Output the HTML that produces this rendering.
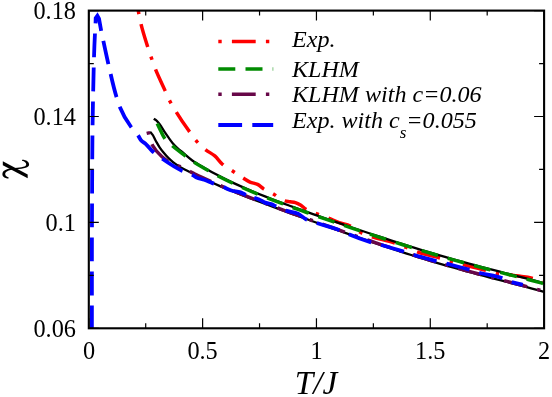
<!DOCTYPE html>
<html><head><meta charset="utf-8"><title>chart</title>
<style>
html,body{margin:0;padding:0;background:#fff;}
svg{display:block;}
text{font-family:"Liberation Serif",serif;fill:#000;}
.c{fill:none;stroke-linejoin:miter;stroke-linecap:butt;}
</style></head>
<body>
<svg width="552" height="397" viewBox="0 0 552 397">
<rect width="552" height="397" fill="#fff"/>
<defs><filter id="nf" x="0" y="0" width="552" height="397" filterUnits="userSpaceOnUse"><feOffset dx="0" dy="0"/></filter><clipPath id="cp"><rect x="88.8" y="10.6" width="455.3" height="317.7"/></clipPath></defs>
<g clip-path="url(#cp)">
<path class="c" d="M137.60,6.00 C137.93,8.14 138.23,10.36 138.60,12.50 C139.11,15.45 139.75,18.48 140.40,21.40 C142.19,29.40 144.74,37.48 147.20,45.30 C148.46,49.31 149.83,53.42 151.20,57.40 C152.41,60.91 153.66,64.53 155.00,68.00 C157.94,75.62 161.74,83.15 165.10,90.60 C166.68,94.10 168.14,97.78 169.90,101.20 C171.79,104.87 174.04,108.48 176.20,112.00 C180.07,118.30 184.39,124.59 188.70,130.60 C191.15,134.01 193.52,137.65 196.30,140.80 C199.14,144.02 202.33,147.13 205.70,149.80 C208.53,152.04 212.05,153.55 214.80,155.90 C217.62,158.32 219.59,161.77 222.40,164.20 C225.46,166.85 229.23,168.76 232.60,171.00 C235.97,173.24 239.37,175.66 242.80,177.80 C245.15,179.27 247.46,180.99 250.00,182.10 C252.40,183.15 255.27,183.20 257.60,184.40 C259.80,185.53 261.53,187.55 263.60,188.90 C266.78,190.97 270.57,192.22 273.80,194.20 C275.91,195.49 277.87,197.15 280.00,198.40 C281.45,199.25 282.91,200.25 284.50,200.80 C286.24,201.40 288.19,201.40 290.00,201.70 C291.78,201.99 293.67,202.07 295.40,202.60 C297.18,203.15 298.90,204.04 300.50,205.00 C302.48,206.18 304.05,208.07 306.00,209.30 C309.32,211.41 313.33,212.47 317.00,213.90 C320.70,215.34 324.61,216.55 328.30,218.00 C331.93,219.43 335.53,221.27 339.20,222.60 C342.80,223.91 346.83,224.37 350.30,226.00 C351.90,226.75 353.49,227.67 355.00,228.60 C356.82,229.72 358.44,231.25 360.30,232.30 C361.94,233.23 363.75,234.00 365.50,234.70 C367.41,235.47 369.44,236.06 371.40,236.70 C378.79,239.10 386.75,240.41 394.10,242.90 C397.94,244.20 401.82,245.73 405.60,247.20 C409.45,248.70 413.31,250.51 417.20,251.90 C424.51,254.50 432.47,255.79 439.90,258.00 C443.41,259.04 446.98,260.27 450.50,261.30 C454.47,262.46 458.60,263.55 462.60,264.60 C469.47,266.40 476.64,267.86 483.50,269.70 C487.94,270.89 492.37,272.71 496.90,273.50 C500.52,274.13 504.35,274.05 508.00,274.50 C510.85,274.85 513.76,275.37 516.60,275.80 C521.68,276.56 527.02,276.82 532.00,278.10 C536.06,279.15 540.04,280.91 544.00,282.30" stroke="#ff0000" stroke-width="3.5" stroke-dasharray="3.4,10.2,23.8,10.2" stroke-dashoffset="-4.8"/>
<path class="c" d="M153.80,118.70 C154.53,119.20 155.32,119.65 156.00,120.20 C156.83,120.88 157.59,121.70 158.30,122.50 C159.54,123.90 160.56,125.55 161.60,127.10 C162.82,128.91 163.90,130.88 165.10,132.70 C166.21,134.38 167.42,136.07 168.60,137.70 C169.92,139.54 171.22,141.48 172.70,143.20 C174.08,144.81 175.64,146.36 177.20,147.80 C178.78,149.27 180.55,150.61 182.20,152.00 C185.53,154.80 188.77,157.95 192.30,160.50 C196.27,163.37 200.76,165.72 205.00,168.17 C208.92,170.44 213.00,172.71 217.00,174.82 C220.92,176.89 225.01,178.93 229.00,180.86 C232.93,182.76 237.02,184.63 241.00,186.41 C244.94,188.17 249.02,189.91 253.00,191.58 C256.94,193.22 261.03,194.87 265.00,196.44 C268.95,198.00 273.03,199.57 277.00,201.08 C280.95,202.57 285.03,204.08 289.00,205.54 C292.95,206.99 297.04,208.46 301.00,209.87 C304.96,211.29 309.04,212.73 313.00,214.12 C316.96,215.50 321.04,216.92 325.00,218.29 C328.96,219.66 333.04,221.06 337.00,222.41 C340.96,223.76 345.04,225.15 349.00,226.48 C352.96,227.82 357.04,229.19 361.00,230.52 C364.96,231.84 369.04,233.19 373.00,234.50 C376.96,235.80 381.04,237.14 385.00,238.43 C388.96,239.71 393.04,241.03 397.00,242.29 C400.96,243.55 405.04,244.85 409.00,246.08 C412.96,247.32 417.04,248.58 421.00,249.79 C424.96,250.99 429.04,252.22 433.00,253.40 C436.96,254.57 441.04,255.77 445.00,256.91 C448.96,258.05 453.04,259.21 457.00,260.32 C460.96,261.42 465.04,262.54 469.00,263.62 C472.96,264.69 477.04,265.78 481.00,266.83 C484.96,267.87 489.04,268.93 493.00,269.96 C496.96,270.98 501.04,272.02 505.00,273.03 C508.96,274.04 513.04,275.08 517.00,276.09 C520.96,277.10 525.04,278.14 529.00,279.17 C532.96,280.20 537.05,281.27 541.00,282.33 C541.99,282.60 543.01,282.88 544.00,283.15" stroke="#000" stroke-width="2.3"/>
<path class="c" d="M150.10,131.80 C150.89,132.76 151.77,133.69 152.50,134.70 C153.92,136.68 154.80,139.08 156.00,141.20 C157.15,143.24 158.30,145.36 159.60,147.30 C160.68,148.91 161.89,150.50 163.10,152.00 C164.86,154.18 166.79,156.35 168.80,158.30 C170.04,159.51 171.36,160.70 172.70,161.80 C174.25,163.07 175.93,164.29 177.60,165.40 C179.27,166.50 181.05,167.53 182.80,168.50 C185.28,169.87 187.98,171.01 190.50,172.30 C192.33,173.24 194.17,174.28 196.00,175.21 C199.90,177.19 204.02,179.01 208.00,180.81 C211.94,182.59 216.02,184.37 220.00,186.07 C223.94,187.75 228.03,189.44 232.00,191.06 C235.95,192.67 240.03,194.29 244.00,195.84 C247.95,197.40 252.03,198.97 256.00,200.48 C259.95,201.99 264.04,203.52 268.00,205.00 C271.96,206.48 276.04,207.99 280.00,209.45 C283.96,210.90 288.04,212.39 292.00,213.84 C295.96,215.28 300.04,216.75 304.00,218.18 C307.96,219.61 312.04,221.08 316.00,222.49 C319.96,223.91 324.04,225.37 328.00,226.77 C331.96,228.18 336.04,229.62 340.00,231.02 C343.96,232.41 348.04,233.84 352.00,235.22 C355.96,236.60 360.04,238.02 364.00,239.38 C367.96,240.74 372.04,242.13 376.00,243.47 C379.96,244.80 384.04,246.17 388.00,247.48 C391.96,248.79 396.04,250.13 400.00,251.41 C403.96,252.69 408.03,254.00 412.00,255.24 C415.96,256.49 420.03,257.76 424.00,258.97 C427.95,260.18 432.03,261.41 436.00,262.58 C439.95,263.76 444.04,264.94 448.00,266.08 C451.96,267.22 456.04,268.37 460.00,269.47 C463.96,270.57 468.04,271.69 472.00,272.76 C475.96,273.83 480.04,274.91 484.00,275.96 C487.96,277.01 492.04,278.07 496.00,279.11 C499.96,280.14 504.04,281.19 508.00,282.23 C511.96,283.26 516.04,284.32 520.00,285.36 C523.96,286.41 528.05,287.49 532.00,288.57 C535.97,289.66 540.04,290.82 544.00,291.93" stroke="#000" stroke-width="2.3"/>
<path class="c" d="M157.20,123.60 C158.42,126.11 159.64,128.71 160.90,131.20 C162.08,133.53 163.10,136.06 164.60,138.20 C166.80,141.33 170.03,143.77 172.90,146.30 C176.83,149.78 181.29,152.87 185.50,156.00 C188.48,158.21 191.50,160.56 194.60,162.60 C197.93,164.80 201.54,166.78 205.00,168.77 C208.93,171.03 213.00,173.31 217.00,175.42 C220.92,177.49 225.01,179.53 229.00,181.46 C232.93,183.36 237.02,185.23 241.00,187.01 C244.94,188.77 249.02,190.51 253.00,192.18 C256.94,193.82 261.03,195.47 265.00,197.04 C268.95,198.60 273.03,200.17 277.00,201.68 C280.95,203.17 285.03,204.68 289.00,206.14 C292.95,207.59 297.04,209.06 301.00,210.47 C304.96,211.89 309.04,213.33 313.00,214.72 C316.96,216.10 321.04,217.52 325.00,218.89 C328.96,220.26 333.04,221.66 337.00,223.01 C340.96,224.36 345.04,225.75 349.00,227.08 C352.96,228.42 357.04,229.79 361.00,231.12 C364.96,232.44 369.04,233.79 373.00,235.10 C376.96,236.40 381.04,237.74 385.00,239.03 C388.96,240.31 393.04,241.63 397.00,242.89 C400.96,244.15 405.04,245.45 409.00,246.68 C412.96,247.92 417.04,249.18 421.00,250.39 C424.96,251.59 429.04,252.82 433.00,254.00 C436.96,255.17 441.04,256.37 445.00,257.51 C448.96,258.65 453.04,259.81 457.00,260.92 C460.96,262.02 465.04,263.14 469.00,264.22 C472.96,265.29 477.04,266.38 481.00,267.43 C484.96,268.47 489.04,269.53 493.00,270.56 C496.96,271.58 501.04,272.62 505.00,273.63 C508.96,274.64 513.04,275.68 517.00,276.69 C520.96,277.70 525.04,278.74 529.00,279.77 C532.96,280.80 537.05,281.87 541.00,282.93 C541.99,283.20 543.01,283.48 544.00,283.75" stroke="#008b00" stroke-width="3.5" stroke-dasharray="17.0,10.2"/>
<path class="c" d="M148.00,131.30 C148.13,131.89 148.26,132.51 148.40,133.10 C149.39,137.30 150.52,141.71 152.60,145.50 C154.92,149.73 158.39,153.50 162.00,156.70 C163.98,158.45 166.15,160.12 168.40,161.50 C171.83,163.62 175.94,164.71 179.60,166.40 C183.23,168.08 186.94,169.87 190.50,171.70 C192.33,172.64 194.17,173.68 196.00,174.61 C199.90,176.59 204.02,178.41 208.00,180.21 C211.94,181.99 216.02,183.77 220.00,185.47 C223.94,187.15 228.03,188.84 232.00,190.46 C235.95,192.07 240.03,193.69 244.00,195.24 C247.95,196.80 252.03,198.37 256.00,199.88 C259.95,201.39 264.04,202.92 268.00,204.40 C271.96,205.88 276.04,207.39 280.00,208.85 C283.96,210.30 288.04,211.79 292.00,213.24 C295.96,214.68 300.04,216.15 304.00,217.58 C307.96,219.01 312.04,220.48 316.00,221.89 C319.96,223.31 324.04,224.77 328.00,226.17 C331.96,227.58 336.04,229.02 340.00,230.42 C343.96,231.81 348.04,233.24 352.00,234.62 C355.96,236.00 360.04,237.42 364.00,238.78 C367.96,240.14 372.04,241.53 376.00,242.87 C379.96,244.20 384.04,245.57 388.00,246.88 C391.96,248.19 396.04,249.53 400.00,250.81 C403.96,252.09 408.03,253.40 412.00,254.64 C415.96,255.89 420.03,257.16 424.00,258.37 C427.95,259.58 432.03,260.81 436.00,261.98 C439.95,263.16 444.04,264.34 448.00,265.48 C451.96,266.62 456.04,267.77 460.00,268.87 C463.96,269.97 468.04,271.09 472.00,272.16 C475.96,273.23 480.04,274.31 484.00,275.36 C487.96,276.41 492.04,277.47 496.00,278.51 C499.96,279.54 504.04,280.59 508.00,281.63 C511.96,282.66 516.04,283.72 520.00,284.76 C523.96,285.81 528.05,286.89 532.00,287.97 C535.97,289.06 540.04,290.22 544.00,291.33" stroke="#670748" stroke-width="3.5" stroke-dasharray="3.4,10.2,23.8,10.2"/>
<path class="c" d="M91.90,329.30 C91.93,291.58 91.82,252.72 92.00,215.00 C92.18,177.05 92.17,137.94 93.00,100.00 C93.49,77.79 93.84,54.89 95.00,32.70 C95.19,29.17 95.40,25.53 95.60,22.00 L95.70,18.20 L97.40,15.80 L99.00,18.60 L101.20,31.00 C103.58,41.96 105.87,53.28 108.40,64.20 C110.92,75.06 113.24,86.34 116.50,97.00 C117.44,100.08 118.33,103.29 119.50,106.30 C122.33,113.60 126.47,120.69 131.10,127.00 C133.28,129.97 136.14,132.55 138.20,135.60 C139.19,137.07 139.85,138.84 141.00,140.20 C142.40,141.85 144.50,142.85 146.10,144.30 C148.48,146.47 150.34,149.31 152.70,151.50 C155.73,154.30 159.31,156.64 162.70,159.00 C168.66,163.14 174.90,167.38 181.50,170.40 C184.72,171.87 188.39,172.60 191.50,174.30 C193.26,175.26 194.79,176.73 196.60,177.60 C198.95,178.73 201.73,178.96 204.20,179.80 C206.99,180.75 209.74,182.05 212.50,183.10 C215.97,184.42 219.65,185.52 223.10,186.90 C225.87,188.01 228.56,189.59 231.40,190.50 C234.32,191.43 237.63,191.33 240.50,192.40 C242.04,192.97 243.49,193.87 245.00,194.50 C246.62,195.17 248.35,195.71 250.00,196.30" stroke="#0000ff" stroke-width="3.8" stroke-dasharray="23.8,10.2" stroke-dashoffset="0"/>
<path class="c" d="M254.20,197.70 C255.82,198.26 257.52,198.73 259.10,199.40 C261.17,200.28 263.00,201.81 265.10,202.60 C267.04,203.33 269.26,203.37 271.20,204.10 C272.75,204.68 274.20,205.60 275.70,206.30 C278.91,207.80 282.25,209.32 285.60,210.50 C289.72,211.95 294.49,211.94 298.40,213.90 C301.13,215.27 303.30,217.76 306.00,219.20 C309.28,220.95 313.09,221.79 316.60,223.00 C324.16,225.61 332.30,227.27 339.70,230.30 C342.48,231.44 345.24,232.83 348.00,234.00 C355.56,237.19 363.52,240.11 371.40,242.40 C374.64,243.34 378.04,244.12 381.30,245.00 C388.70,247.01 396.30,249.17 403.60,251.50 C406.61,252.46 409.68,253.55 412.70,254.50 C420.34,256.91 428.34,258.98 436.10,261.00 C439.36,261.85 442.74,262.67 446.00,263.50 C453.67,265.46 461.62,267.31 469.20,269.60 C472.42,270.57 475.68,271.75 478.90,272.70 C486.41,274.90 494.65,275.41 502.00,278.10 C505.10,279.23 508.08,280.94 511.20,282.00 C514.93,283.26 518.97,283.88 522.80,284.80" stroke="#0000ff" stroke-width="3.8" stroke-dasharray="23.8,10.2" stroke-dashoffset="0"/>
</g>
<path d="M88.80,328.3 v-10 M88.80,10.6 v10 M145.71,328.3 v-5 M145.71,10.6 v5 M202.62,328.3 v-10 M202.62,10.6 v10 M259.54,328.3 v-5 M259.54,10.6 v5 M316.45,328.3 v-10 M316.45,10.6 v10 M373.36,328.3 v-5 M373.36,10.6 v5 M430.28,328.3 v-10 M430.28,10.6 v10 M487.19,328.3 v-5 M487.19,10.6 v5 M544.10,328.3 v-10 M544.10,10.6 v10 M88.8,328.30 h10 M544.1,328.30 h-10 M88.8,275.35 h5 M544.1,275.35 h-5 M88.8,222.40 h10 M544.1,222.40 h-10 M88.8,169.45 h5 M544.1,169.45 h-5 M88.8,116.50 h10 M544.1,116.50 h-10 M88.8,63.55 h5 M544.1,63.55 h-5 M88.8,10.60 h10 M544.1,10.60 h-10" stroke="#000" stroke-width="1.2" fill="none"/>
<rect x="88.8" y="10.6" width="455.3" height="317.7" fill="none" stroke="#000" stroke-width="2.1"/>
<g filter="url(#nf)">
<g font-size="24.3" text-anchor="end" transform="scale(1,1.03)">
<text x="76" y="18.25">0.18</text>
<text x="76" y="121.07">0.14</text>
<text x="76" y="223.88">0.1</text>
<text x="76" y="326.80">0.06</text>
</g>
<g font-size="24.3" text-anchor="middle" transform="scale(1,1.03)">
<text x="89.2" y="348.45">0</text>
<text x="202.6" y="348.45">0.5</text>
<text x="316.5" y="348.45">1</text>
<text x="430.3" y="348.45">1.5</text>
<text x="544" y="348.45">2</text>
</g>
<text x="316" y="393.8" font-size="33.2" font-style="italic" text-anchor="middle">T/J</text>
<g fill="#000" stroke="none">
<path d="M2.8,161.3 L2.8,165.3 L27.7,178.3 L27.7,174.4 Z"/>
<path d="M22.1,159.7 C26.5,159.8 29.3,161.8 29.1,164.7 C28.9,167.6 24.5,168.6 15.6,169.2 C9.5,169.7 5.4,171.2 5.2,173.8 C5.1,175.6 6.4,176.9 8.7,177.5 L8.5,178.5 C4.6,178.3 2.2,176.5 2.4,173.7 C2.7,170.3 7.5,168.6 14.6,168.1 C22,167.5 26.1,166.8 26.2,164.6 C26.3,162.6 24.6,161.2 22,160.7 Z"/>
</g>
</g>
<g class="c" stroke-width="3.5">
<path d="M218.3,41.4 H273.2" stroke="#ff0000" stroke-dasharray="3.4,10.2,23.8,10.2"/>
<path d="M218.3,68.9 H273.2" stroke="#008b00" stroke-dasharray="17.0,10.2"/>
<path d="M218.3,94.2 H273.2" stroke="#670748" stroke-dasharray="3.4,10.2,23.8,10.2"/>
<path d="M218.3,125 H273.2" stroke="#0000ff" stroke-width="4" stroke-dasharray="23.8,10.2"/>
</g>
<g font-size="24.1" font-style="italic" filter="url(#nf)" transform="scale(1,0.95)">
<text x="292" y="49.37">Exp.</text>
<text x="292" y="80.84">KLHM</text>
<text x="292" y="107.26">KLHM with c=0.06</text>
<text x="292" y="135.16">Exp. with c<tspan font-size="17" dy="10">s</tspan><tspan dy="-10">=0.055</tspan></text>
</g>
</svg>
</body></html>
